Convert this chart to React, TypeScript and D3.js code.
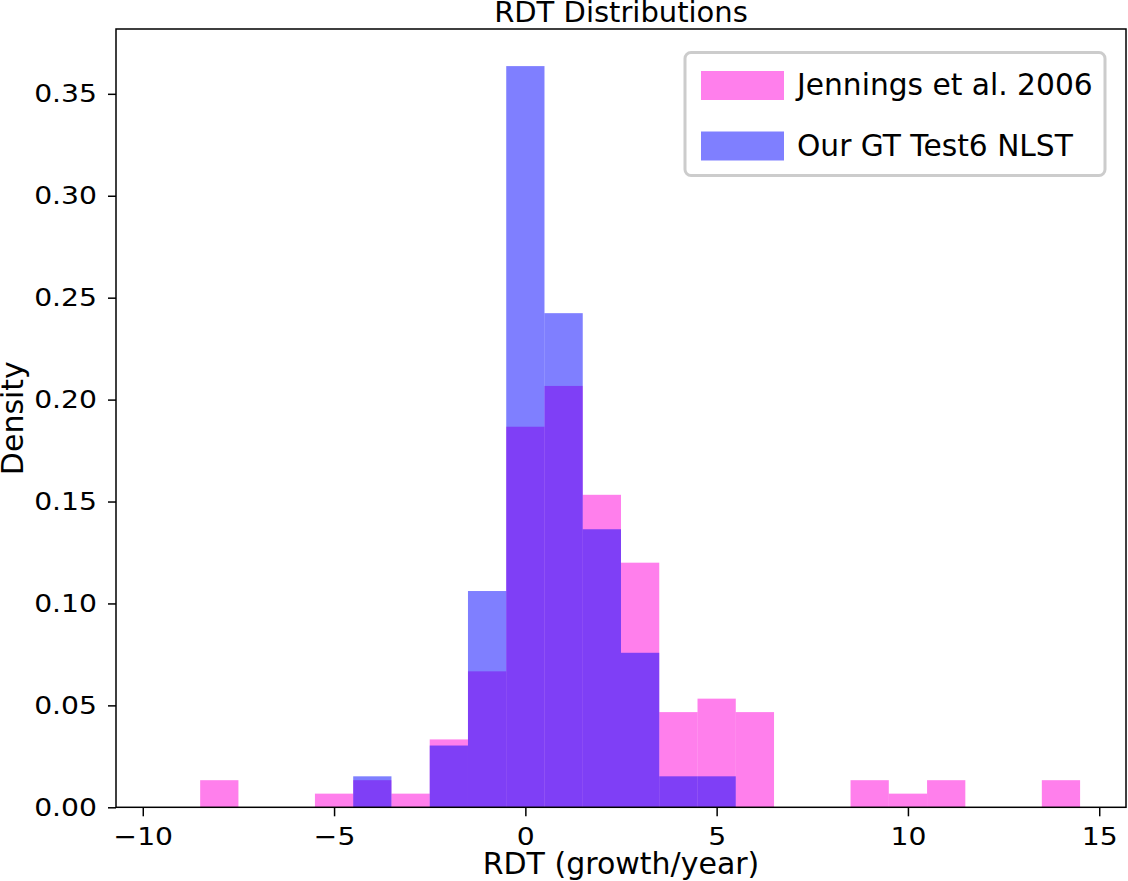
import { useEffect, useRef } from 'react';
import * as d3 from 'd3';

// bins of width 1, starting at -9.5
const binStarts = d3.range(-9.5, 14.5, 1);

const jenningsDensity = [
  0, 0.0133, 0, 0, 0.0067, 0.0133, 0.0067, 0.0333, 0.0667, 0.1867, 0.2067, 0.1533,
  0.12, 0.0467, 0.0533, 0.0467, 0, 0, 0.0133, 0.0067, 0.0133, 0, 0, 0.0133
];

const ourDensity = [
  0, 0, 0, 0, 0, 0.0152, 0, 0.0303, 0.1061, 0.3636, 0.2424, 0.1364,
  0.0758, 0.0152, 0.0152, 0, 0, 0, 0, 0, 0, 0, 0, 0
];

const xTicks = [-10, -5, 0, 5, 10, 15];
const yTicks = [0, 0.05, 0.1, 0.15, 0.2, 0.25, 0.3, 0.35];

const series = [
  { label: 'Jennings et al. 2006', values: jenningsDensity, color: '#ff00d9' },
  { label: 'Our GT Test6 NLST', values: ourDensity, color: '#0000ff' }
];

export default function App() {
  const svgRef = useRef(null);

  useEffect(() => {
    const svg = d3.select(svgRef.current);
    svg.selectAll('*').remove();

    const width = 1128;
    const height = 881;
    const margin = { top: 29, right: 2, bottom: 73.7, left: 116 };
    const font = 'DejaVu Sans, sans-serif';
    const tickFont = '25px';
    const stretch = 1.13;

    svg.attr('width', width).attr('height', height);

    const x = d3.scaleLinear()
      .domain([-10.7, 15.7])
      .range([margin.left, width - margin.right]);

    const y = d3.scaleLinear()
      .domain([0, 0.3818])
      .range([height - margin.bottom, margin.top]);

    // histogram bars
    series.forEach(s => {
      svg.append('g')
        .selectAll('rect')
        .data(binStarts.map((b, i) => ({ x0: b, x1: b + 1, v: s.values[i] })).filter(d => d.v > 0))
        .join('rect')
        .attr('x', d => x(d.x0))
        .attr('width', d => x(d.x1) - x(d.x0))
        .attr('y', d => y(d.v))
        .attr('height', d => y(0) - y(d.v))
        .attr('fill', s.color)
        .attr('fill-opacity', 0.5);
    });

    // x axis
    const xAxis = svg.append('g')
      .attr('transform', `translate(0,${y(0)})`)
      .call(d3.axisBottom(x).tickValues(xTicks).tickSize(9).tickPadding(11).tickFormat(d3.format('d')));
    xAxis.select('.domain').remove();
    xAxis.selectAll('line').attr('stroke', '#000').attr('stroke-width', 1.5);
    xAxis.selectAll('text')
      .attr('fill', '#000')
      .attr('transform', `scale(${stretch},1)`)
      .style('font-family', font)
      .style('font-size', tickFont);

    // y axis
    const yAxis = svg.append('g')
      .attr('transform', `translate(${x.range()[0]},0)`)
      .call(d3.axisLeft(y).tickValues(yTicks).tickSize(8).tickPadding(11).tickFormat(d3.format('.2f')));
    yAxis.select('.domain').remove();
    yAxis.selectAll('line').attr('stroke', '#000').attr('stroke-width', 1.5);
    yAxis.selectAll('text')
      .attr('fill', '#000')
      .attr('transform', `translate(-19,0) scale(${stretch},1) translate(19,0)`)
      .style('font-family', font)
      .style('font-size', tickFont);

    // frame
    svg.append('rect')
      .attr('x', x.range()[0])
      .attr('y', y.range()[1])
      .attr('width', x.range()[1] - x.range()[0])
      .attr('height', y.range()[0] - y.range()[1])
      .attr('fill', 'none')
      .attr('stroke', '#000')
      .attr('stroke-width', 1.5);

    const cx = (x.range()[0] + x.range()[1]) / 2;
    const cy = (y.range()[0] + y.range()[1]) / 2;

    svg.append('text')
      .attr('x', cx)
      .attr('y', 22)
      .attr('text-anchor', 'middle')
      .style('font-family', font)
      .style('font-size', '29px')
      .text('RDT Distributions');

    svg.append('text')
      .attr('x', cx)
      .attr('y', 874)
      .attr('text-anchor', 'middle')
      .style('font-family', font)
      .style('font-size', '30px')
      .text('RDT (growth/year)');

    svg.append('text')
      .attr('transform', `translate(23,${cy}) rotate(-90)`)
      .attr('text-anchor', 'middle')
      .style('font-family', font)
      .style('font-size', '30px')
      .text('Density');

    // legend
    const legend = svg.append('g');
    legend.append('rect')
      .attr('x', 685)
      .attr('y', 52.5)
      .attr('width', 420)
      .attr('height', 123)
      .attr('rx', 6)
      .attr('fill', '#fff')
      .attr('fill-opacity', 0.8)
      .attr('stroke', '#cccccc')
      .attr('stroke-width', 3);

    series.forEach((s, i) => {
      legend.append('rect')
        .attr('x', 701)
        .attr('y', 71 + i * 60.5)
        .attr('width', 83)
        .attr('height', 29)
        .attr('fill', s.color)
        .attr('fill-opacity', 0.5);
      legend.append('text')
        .attr('x', 797)
        .attr('y', 95 + i * 60.5)
        .style('font-family', font)
        .style('font-size', '29.7px')
        .text(s.label);
    });
  }, []);

  return (
    <svg ref={svgRef} style={{ position: 'absolute', left: 0, top: 0, display: 'block' }}></svg>
  );
}
